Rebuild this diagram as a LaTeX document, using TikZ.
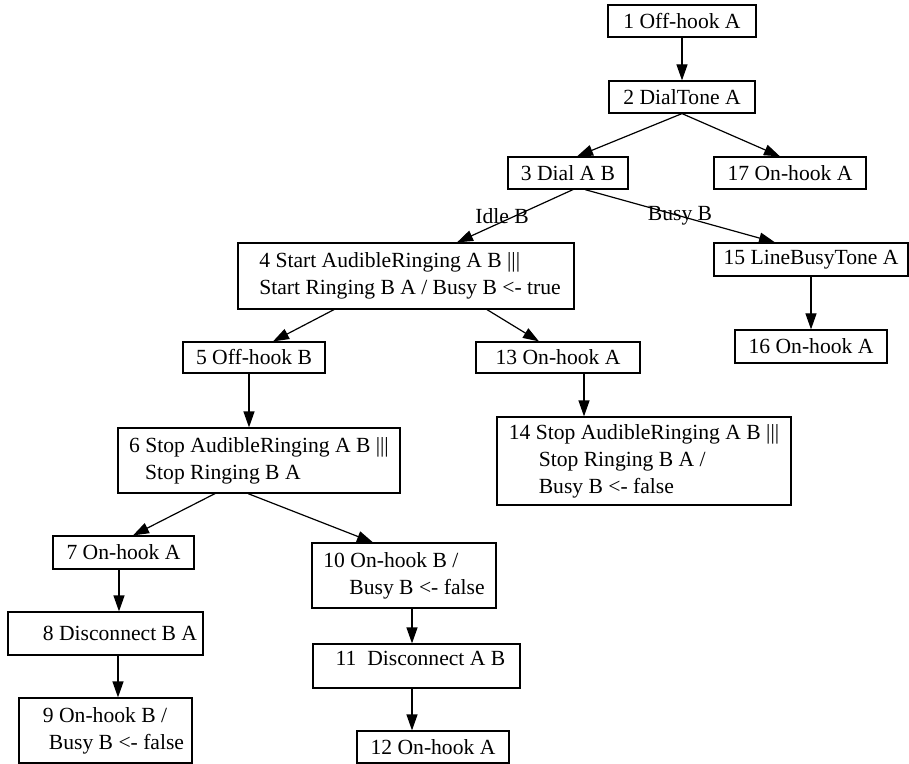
\documentclass[tikz,border=0pt]{standalone}
\usepackage{fontspec}
\setmainfont{Liberation Serif}
\usetikzlibrary{arrows.meta}

\begin{document}
\begin{tikzpicture}
  [x=0.5pt,y=-0.5pt,
   every node/.style={font=\fontsize{10.8}{13.5}\selectfont,inner sep=0pt},
   box/.style={draw,rectangle,line width=0.6pt,align=left},
   edge/.style={-{Triangle[length=8pt,width=5.5pt]},line width=0.6pt}]
  \useasboundingbox (0,0) rectangle (909,764);

  \node[box,minimum width=74pt,minimum height=16pt] (n1) at (682,21) {1 Off-hook A};
  \node[box,minimum width=73pt,minimum height=16pt] (n2) at (682,97) {2 DialTone A};
  \node[box,minimum width=60pt,minimum height=16pt] (n3) at (568,173) {3 Dial A B};
  \node[box,minimum width=76pt,minimum height=16pt] (n17) at (790,173) {17 On-hook A};
  \node[box,minimum width=168pt,minimum height=33pt] (n4) at (406,276)
    {\hspace*{4pt}4 Start AudibleRinging A B |||\\ \hspace*{4pt}Start Ringing B A / Busy B <- true};
  \node[box,minimum width=97pt,minimum height=16.5pt] (n15) at (811,259.5) {15 LineBusyTone A};
  \node[box,minimum width=76pt,minimum height=16.5pt] (n16) at (811,346.5) {16 On-hook A};
  \node[box,minimum width=71pt,minimum height=15.5pt] (n5) at (254,357.5) {5 Off-hook B};
  \node[box,minimum width=82pt,minimum height=15.5pt] (n13) at (558,357.5) {13 On-hook A};
  \node[box,minimum width=141pt,minimum height=32.5pt] (n6) at (259,460.5)
    {6 Stop AudibleRinging A B |||\\ \hspace*{8pt}Stop Ringing B A};
  \node[box,minimum width=147pt,minimum height=44pt] (n14) at (644,461)
    {14 Stop AudibleRinging A B |||\\ \hspace*{15pt}Stop Ringing B A /\\ \hspace*{15pt}Busy B <- false};
  \node[box,minimum width=70.5pt,minimum height=16.5pt] (n7) at (123.5,552.5) {7 On-hook A};
  \node[box,minimum width=92pt,minimum height=32.5pt] (n10) at (404,575.5)
    {10 On-hook B /\\ \hspace*{13pt}Busy B <- false};
  \node[box,minimum width=97.5pt,minimum height=21.5pt] (n8) at (105.5,633.5) {\hspace*{14.5pt}8 Disconnect B A};
  \node[box,minimum width=103.5pt,minimum height=22pt,text depth=8pt] (n11) at (416.5,666)
    {\hspace*{4pt}11\ \ Disconnect A B};
  \node[box,minimum width=86.5pt,minimum height=32.5pt] (n9) at (105.5,730.5)
    {\hspace*{8pt}9 On-hook B /\\ \hspace*{11pt}Busy B <- false};
  \node[box,minimum width=76pt,minimum height=16pt] (n12) at (433,747) {12 On-hook A};

  \foreach \from/\fs/\to/\ts in {n1/0/n2/0, n2/0/n3/4.5, n2/0/n17/-5, n4/-36/n5/9.5,
      n4/40.5/n13/-9.5, n5/-2.5/n6/-5, n13/13/n14/-30, n15/0/n16/0, n6/-22/n7/4.75,
      n6/-5.5/n10/-15.5, n7/-2.25/n8/6.75, n8/6.25/n9/6.25, n10/4/n11/-2.25, n11/-2.25/n12/-10.5}
    \draw[edge] ([xshift=\fs pt]\from.south) -- ([xshift=\ts pt]\to.north);

  \draw[edge] ([xshift=2.5pt]n3.south) -- node[xshift=-6.5pt] (idle) {Idle B} ([xshift=25.5pt]n4.north);
  \draw[edge] ([xshift=8.5pt]n3.south) -- node (busy) {Busy B} ([xshift=-18pt]n15.north);

\end{tikzpicture}
\end{document}
